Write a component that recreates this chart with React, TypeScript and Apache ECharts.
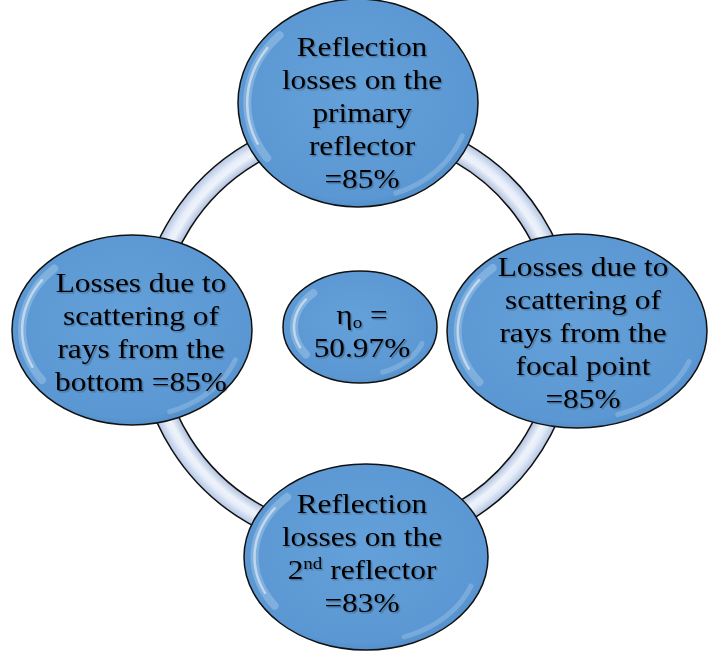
import React, { useEffect, useRef } from "react";
import * as echarts from "echarts";

// ---- data ----
const lossLines: string[][] = [
  ["Reflection", "losses on the", "primary", "reflector"],
  ["Losses due to", "scattering of", "rays from the", "focal point"],
  ["Reflection", "losses on the", "{n|2}{s|nd}{n| reflector}"],
  ["Losses due to", "scattering of", "rays from the", "bottom"],
];
const lossValues: number[] = [85, 85, 83, 85];
const valueOnSameLine: boolean[] = [false, false, false, true];
const overallEfficiency = 50.97;

// ---- layout (positions / sizes) ----
const W = 708;
const H = 651;
const nodeLayout = [
  { cx: 358, cy: 103, rx: 120, ry: 104, tx: 362, ty: 113 },
  { cx: 577, cy: 331, rx: 130, ry: 97, tx: 583, ty: 333 },
  { cx: 366, cy: 557, rx: 122, ry: 93, tx: 362, ty: 553 },
  { cx: 132, cy: 330, rx: 120, ry: 95, tx: 141, ty: 332 },
];
const centerLayout = { cx: 360, cy: 327, rx: 77, ry: 56, tx: 362, ty: 331 };
const ringLayout = { cx: 357, cy: 333, r: 219, r0: 197 };

const FONT = "Liberation Serif";
const FS = 28;
const LH = 33;
const SX = 1.12;

function ellipseFill() {
  return new echarts.graphic.RadialGradient(0.48, 0.45, 0.6, [
    { offset: 0, color: "#64a1da" },
    { offset: 0.85, color: "#5b98d3" },
    { offset: 1, color: "#4a85c0" },
  ]);
}

function arcPoints(cx: number, cy: number, rx: number, ry: number, a0: number, a1: number, k: number) {
  const pts: number[][] = [];
  const n = 24;
  for (let i = 0; i <= n; i++) {
    const a = ((a0 + ((a1 - a0) * i) / n) * Math.PI) / 180;
    pts.push([cx + rx * k * Math.cos(a), cy + ry * k * Math.sin(a)]);
  }
  return pts;
}

function ellipseGroup(e: { cx: number; cy: number; rx: number; ry: number }) {
  const k = 1 - 8 / Math.min(e.rx, e.ry);
  return [
    {
      type: "ellipse",
      shape: { cx: e.cx, cy: e.cy, rx: e.rx, ry: e.ry },
      style: { fill: ellipseFill(), stroke: "#111", lineWidth: 1.5 },
    },
    {
      type: "polyline",
      shape: { points: arcPoints(e.cx, e.cy, e.rx, e.ry, 145, 225, k) },
      style: { stroke: "rgba(255,255,255,0.22)", lineWidth: 8, fill: null, lineCap: "round" },
    },
    {
      type: "polyline",
      shape: { points: arcPoints(e.cx, e.cy, e.rx, e.ry, 155, 215, k) },
      style: { stroke: "rgba(255,255,255,0.5)", lineWidth: 2.5, fill: null, lineCap: "round" },
    },
    {
      type: "polyline",
      shape: { points: arcPoints(e.cx, e.cy, e.rx, e.ry, 20, 70, k) },
      style: { stroke: "rgba(255,255,255,0.18)", lineWidth: 5, fill: null, lineCap: "round" },
    },
  ];
}

const richStyles = {
  n: { fontSize: FS, fontFamily: FONT, fill: "#000", lineHeight: LH },
  s: { fontSize: 17, fontFamily: FONT, fill: "#000", lineHeight: LH, verticalAlign: "top", padding: [2, 0, 0, 0] },
  b: { fontSize: 17, fontFamily: FONT, fill: "#000", lineHeight: LH, verticalAlign: "bottom" },
};

function labelText(i: number) {
  const lines = lossLines[i].map((l) => (l.indexOf("{") === 0 ? l : `{n|${l}}`));
  const val = `=${lossValues[i]}%`;
  if (valueOnSameLine[i]) {
    lines[lines.length - 1] = lines[lines.length - 1].replace(/\}$/, ` ${val}}`);
  } else {
    lines.push(`{n|${val}}`);
  }
  return lines.join("\n");
}

function textEl(text: string, x: number, y: number) {
  return {
    type: "text",
    x,
    y,
    scaleX: SX,
    style: {
      text,
      rich: richStyles,
      fontSize: FS,
      fontFamily: FONT,
      fill: "#000",
      lineHeight: LH,
      align: "center",
      verticalAlign: "middle",
      textShadowColor: "rgba(0,0,0,0.25)",
      textShadowOffsetX: 1.5,
      textShadowOffsetY: 1.5,
      textShadowBlur: 1,
    },
  };
}

export default function App() {
  const ref = useRef<HTMLDivElement>(null);
  useEffect(() => {
    document.body.style.margin = "0";
    if (!ref.current) return;
    const chart = echarts.init(ref.current, null, { renderer: "svg" });
    const r = ringLayout;
    const ringFill = new echarts.graphic.RadialGradient(0.5, 0.5, 0.5, [
      { offset: r.r0 / r.r, color: "#aebfdd" },
      { offset: (r.r0 / r.r + 1) / 2 - 0.01, color: "#eef3fb" },
      { offset: (r.r0 / r.r + 1) / 2 + 0.01, color: "#e6eef9" },
      { offset: 1, color: "#b3c5e3" },
    ]);
    const elements: any[] = [
      {
        type: "rect",
        shape: { x: 0, y: 0, width: W, height: H },
        style: { fill: "#ffffff" },
      },
      {
        type: "ring",
        shape: { cx: r.cx, cy: r.cy, r: r.r, r0: r.r0 },
        style: { fill: ringFill, stroke: "#111", lineWidth: 1.5 },
      },
    ];
    nodeLayout.forEach((n, i) => {
      elements.push(...ellipseGroup(n));
      elements.push(textEl(labelText(i), n.tx, n.ty));
    });
    elements.push(...ellipseGroup(centerLayout));
    elements.push(
      textEl(`{n|η}{b|o}{n| =}\n{n|${overallEfficiency.toFixed(2)}%}`, centerLayout.tx, centerLayout.ty)
    );
    chart.setOption({
      animation: false,
      graphic: { elements },
    });
    return () => chart.dispose();
  }, []);
  return <div ref={ref} style={{ width: W, height: H }} />;
}
